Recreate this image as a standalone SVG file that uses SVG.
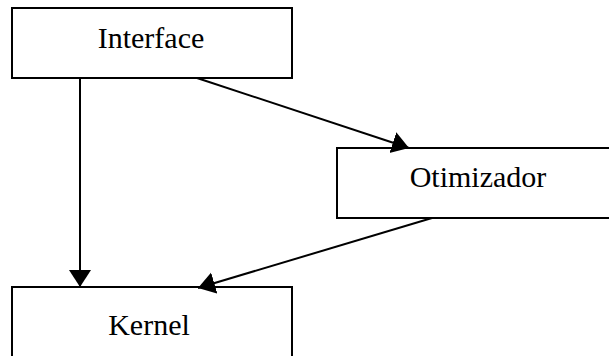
<svg xmlns="http://www.w3.org/2000/svg" width="609" height="356" viewBox="0 0 609 356">
  <style>
    .box { fill: #ffffff; stroke: #000000; stroke-width: 2; }
    .label { font-family: "Liberation Serif", "Times New Roman", serif; font-size: 30px; fill: #000000; text-anchor: middle; }
    .edge { stroke: #000000; stroke-width: 2; fill: none; marker-end: url(#arrow); }
  </style>
  <defs>
    <marker id="arrow" markerUnits="userSpaceOnUse" markerWidth="18" markerHeight="24" refX="17" refY="11" orient="auto">
      <path d="M0,0 L17,11 L0,22 Z" fill="#000000"/>
    </marker>
  </defs>
  <rect width="609" height="356" fill="#ffffff"/>

  <g id="interface">
    <rect class="box" x="12" y="8" width="280" height="70"/>
    <text class="label" x="151" y="48">Interface</text>
  </g>

  <g id="otimizador">
    <rect class="box" x="337" y="148" width="290" height="70"/>
    <text class="label" x="478" y="187">Otimizador</text>
  </g>

  <g id="kernel">
    <rect class="box" x="12" y="287" width="280" height="90"/>
    <text class="label" x="149" y="335">Kernel</text>
  </g>

  <g id="connectors">
    <line class="edge" x1="80" y1="78" x2="80" y2="287"/>
    <line class="edge" x1="197" y1="78" x2="409" y2="148"/>
    <line class="edge" x1="432" y1="218" x2="198" y2="288"/>
  </g>
</svg>
